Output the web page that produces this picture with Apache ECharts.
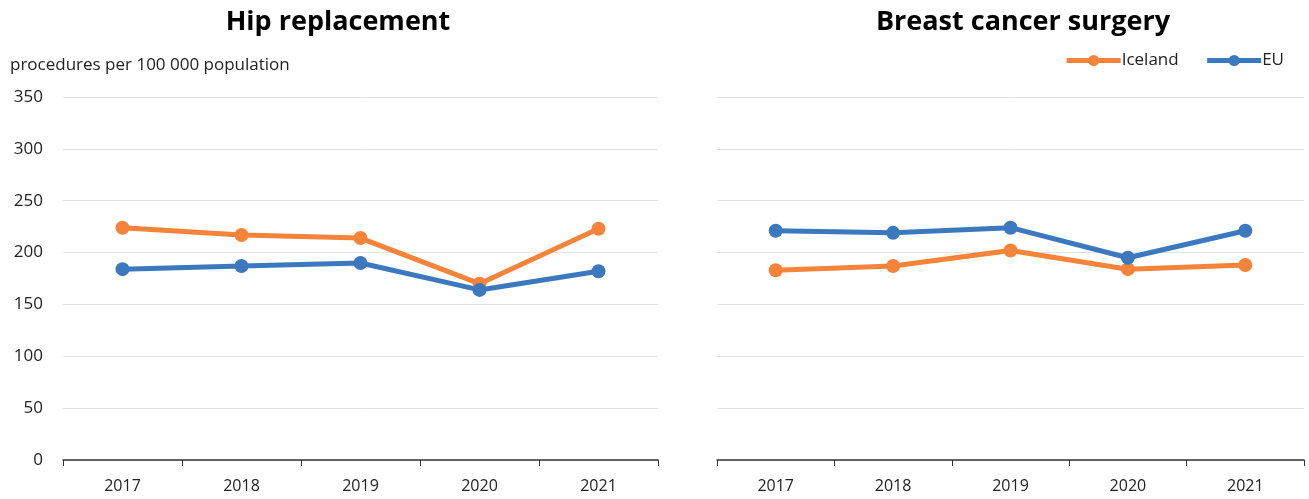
<!DOCTYPE html>
<html><head><meta charset="utf-8">
<script src="https://cdn.jsdelivr.net/npm/echarts@6/dist/echarts.min.js"></script>
<style>html,body{margin:0;padding:0;background:#fff}#c{width:1309px;height:499px}</style>
</head><body><div id="c"></div>
<script>
const years = ['2017','2018','2019','2020','2021'];
const hipIceland = [224, 217, 214, 170, 223];
const hipEU = [184, 187, 190, 164, 182];
const breastIceland = [183, 187, 202, 184, 188];
const breastEU = [221, 219, 224, 195, 221];
const titles = ['Hip replacement', 'Breast cancer surgery'];
const yAxisTitle = 'procedures per 100 000 population';

const FONT = '"Open Sans", sans-serif';
const ORANGE = '#F5843A';
const BLUE = '#3B78BE';

const chart = echarts.init(document.getElementById('c'));
function xAxis(i){return {type:'category',gridIndex:i,data:years,boundaryGap:true,
  axisLine:{lineStyle:{color:'#333',width:1.5}},axisTick:{show:true,length:6,lineStyle:{color:'#333'}},
  axisLabel:{color:'#222',fontSize:16,fontFamily:FONT,margin:18}};}
function yAxis(i,show){return {type:'value',gridIndex:i,min:0,max:350,interval:50,
  axisLine:{show:false},axisTick:{show:false},
  splitLine:{lineStyle:{color:'#e2e2e2',width:1}},
  axisLabel:{show:show,color:'#222',fontSize:17,fontFamily:FONT,margin:20}};}
function line(name,data,color,i){return {name:name,type:'line',xAxisIndex:i,yAxisIndex:i,data:data,
  symbol:'circle',symbolSize:14,itemStyle:{color:color},lineStyle:{color:color,width:5},animation:false};}

chart.setOption({
  animation:false,
  title:[
    {text:titles[0],left:333,textAlign:'center',top:4,textStyle:{fontFamily:FONT,fontSize:27,fontWeight:'bold',color:'#000'}},
    {text:titles[1],left:1018,textAlign:'center',top:4,textStyle:{fontFamily:FONT,fontSize:27,fontWeight:'bold',color:'#000'}}
  ],
  graphic:[{type:'text',left:10,top:57,style:{text:yAxisTitle,fontFamily:FONT,fontSize:17,fill:'#222'}}],
  legend:{right:20,top:47,itemWidth:54,itemHeight:14,itemGap:26,
    lineStyle:{width:5},
    textStyle:{fontFamily:FONT,fontSize:17,color:'#222',padding:[0,0,0,-4]},
    data:['Iceland','EU']},
  grid:[{left:63,top:97,width:595,height:363},{left:717,top:97,width:587,height:363}],
  xAxis:[xAxis(0),xAxis(1)],
  yAxis:[yAxis(0,true),yAxis(1,false)],
  series:[
    line('Iceland',hipIceland,ORANGE,0),
    line('EU',hipEU,BLUE,0),
    line('Iceland',breastIceland,ORANGE,1),
    line('EU',breastEU,BLUE,1)
  ]
});
</script></body></html>
